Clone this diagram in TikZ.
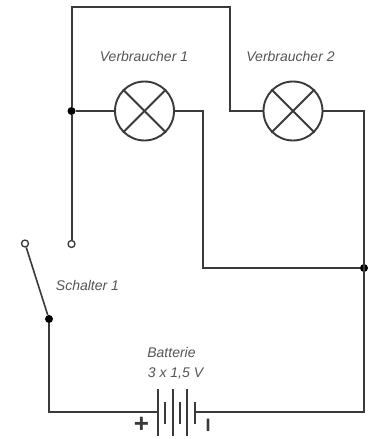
\documentclass[tikz,border=0pt]{standalone}
\usepackage{fontspec}
\setmainfont{Liberation Sans}
\tikzset{
  wire/.style={draw=wirecol,line width=2pt,line join=miter},
  lamp/.style={circle,draw=wirecol,line width=1.9pt,minimum size=59pt,inner sep=0pt,fill=white},
  junction/.style={circle,fill=black,minimum size=8pt,inner sep=0pt},
  terminal/.style={circle,draw=wirecol,line width=1.3pt,fill=white,minimum size=7pt,inner sep=0pt},
  plate/.style={draw=wirecol,line width=1.9pt},
  lbl/.style={text=labelcol,font=\itshape\fontsize{14}{16}\selectfont,inner sep=0pt},
  pol/.style={text=wirecol,inner sep=0pt}
}
\definecolor{wirecol}{HTML}{3A3A3A}
\definecolor{labelcol}{HTML}{555555}
\begin{document}
\begin{tikzpicture}[x=1pt,y=-1pt]
\useasboundingbox (0,0) rectangle (385,439);
\fill[white] (0,0) rectangle (385,439);
% nodes
\node[lamp] (L1) at (144.5,111) {};
\node[lamp] (L2) at (293,111) {};
\node[junction] (J1) at (71.5,111) {};
\node[junction] (J2) at (364,268) {};
\node[junction] (J3) at (49,319) {};
\node[terminal] (T1) at (71.5,244) {};
\node[terminal] (T2) at (25,243.5) {};
\coordinate (TL) at (71.5,7);
\coordinate (TR) at (230,7);
\coordinate (M2) at (230,111);
\coordinate (R1) at (202.5,111);
\coordinate (R1b) at (202.5,268);
\coordinate (R2) at (364,111);
\coordinate (BR) at (364,412);
\coordinate (BL) at (49,412);
\coordinate (BatP) at (158,412);
\coordinate (BatM) at (195,412);
% lamp crosses
\foreach \l in {L1,L2}{
  \draw[wire] (\l.45) -- (\l.225);
  \draw[wire] (\l.135) -- (\l.315);
}
% wires
\draw[wire] (T1) -- (J1) -- (TL) -- (TR) -- (M2) -- (L2);
\draw[wire] (J1) -- (L1);
\draw[wire] (L1) -- (R1) -- (R1b) -- (J2);
\draw[wire] (L2) -- (R2) -- (BR) -- (BatM);
\draw[wire] (BatP) -- (BL) -- (J3);
\draw[draw=wirecol,line width=1.6pt] (T2) -- (J3);
% battery
\foreach \x in {158,173,187}{\draw[plate] (\x,389) -- (\x,436);}
\foreach \x in {165,180,195}{\draw[plate] (\x,402) -- (\x,424);}
% labels
\node[lbl] at (144,56.5) {Verbraucher 1};
\node[lbl] (v2) at (290.5,56) {Verbraucher 2};
\node[lbl] at (87.5,285.5) {Schalter 1};
\node[lbl] at (171.5,352) {Batterie};
\node[lbl] at (175.5,373.5) {3 x 1,5 V};
\node[pol,font=\bfseries\fontsize{26}{26}\selectfont] at (141.5,425) {+};
\node[pol,font=\bfseries\fontsize{18}{18}\selectfont] at (208,425.5) {I};
\end{tikzpicture}
\end{document}
